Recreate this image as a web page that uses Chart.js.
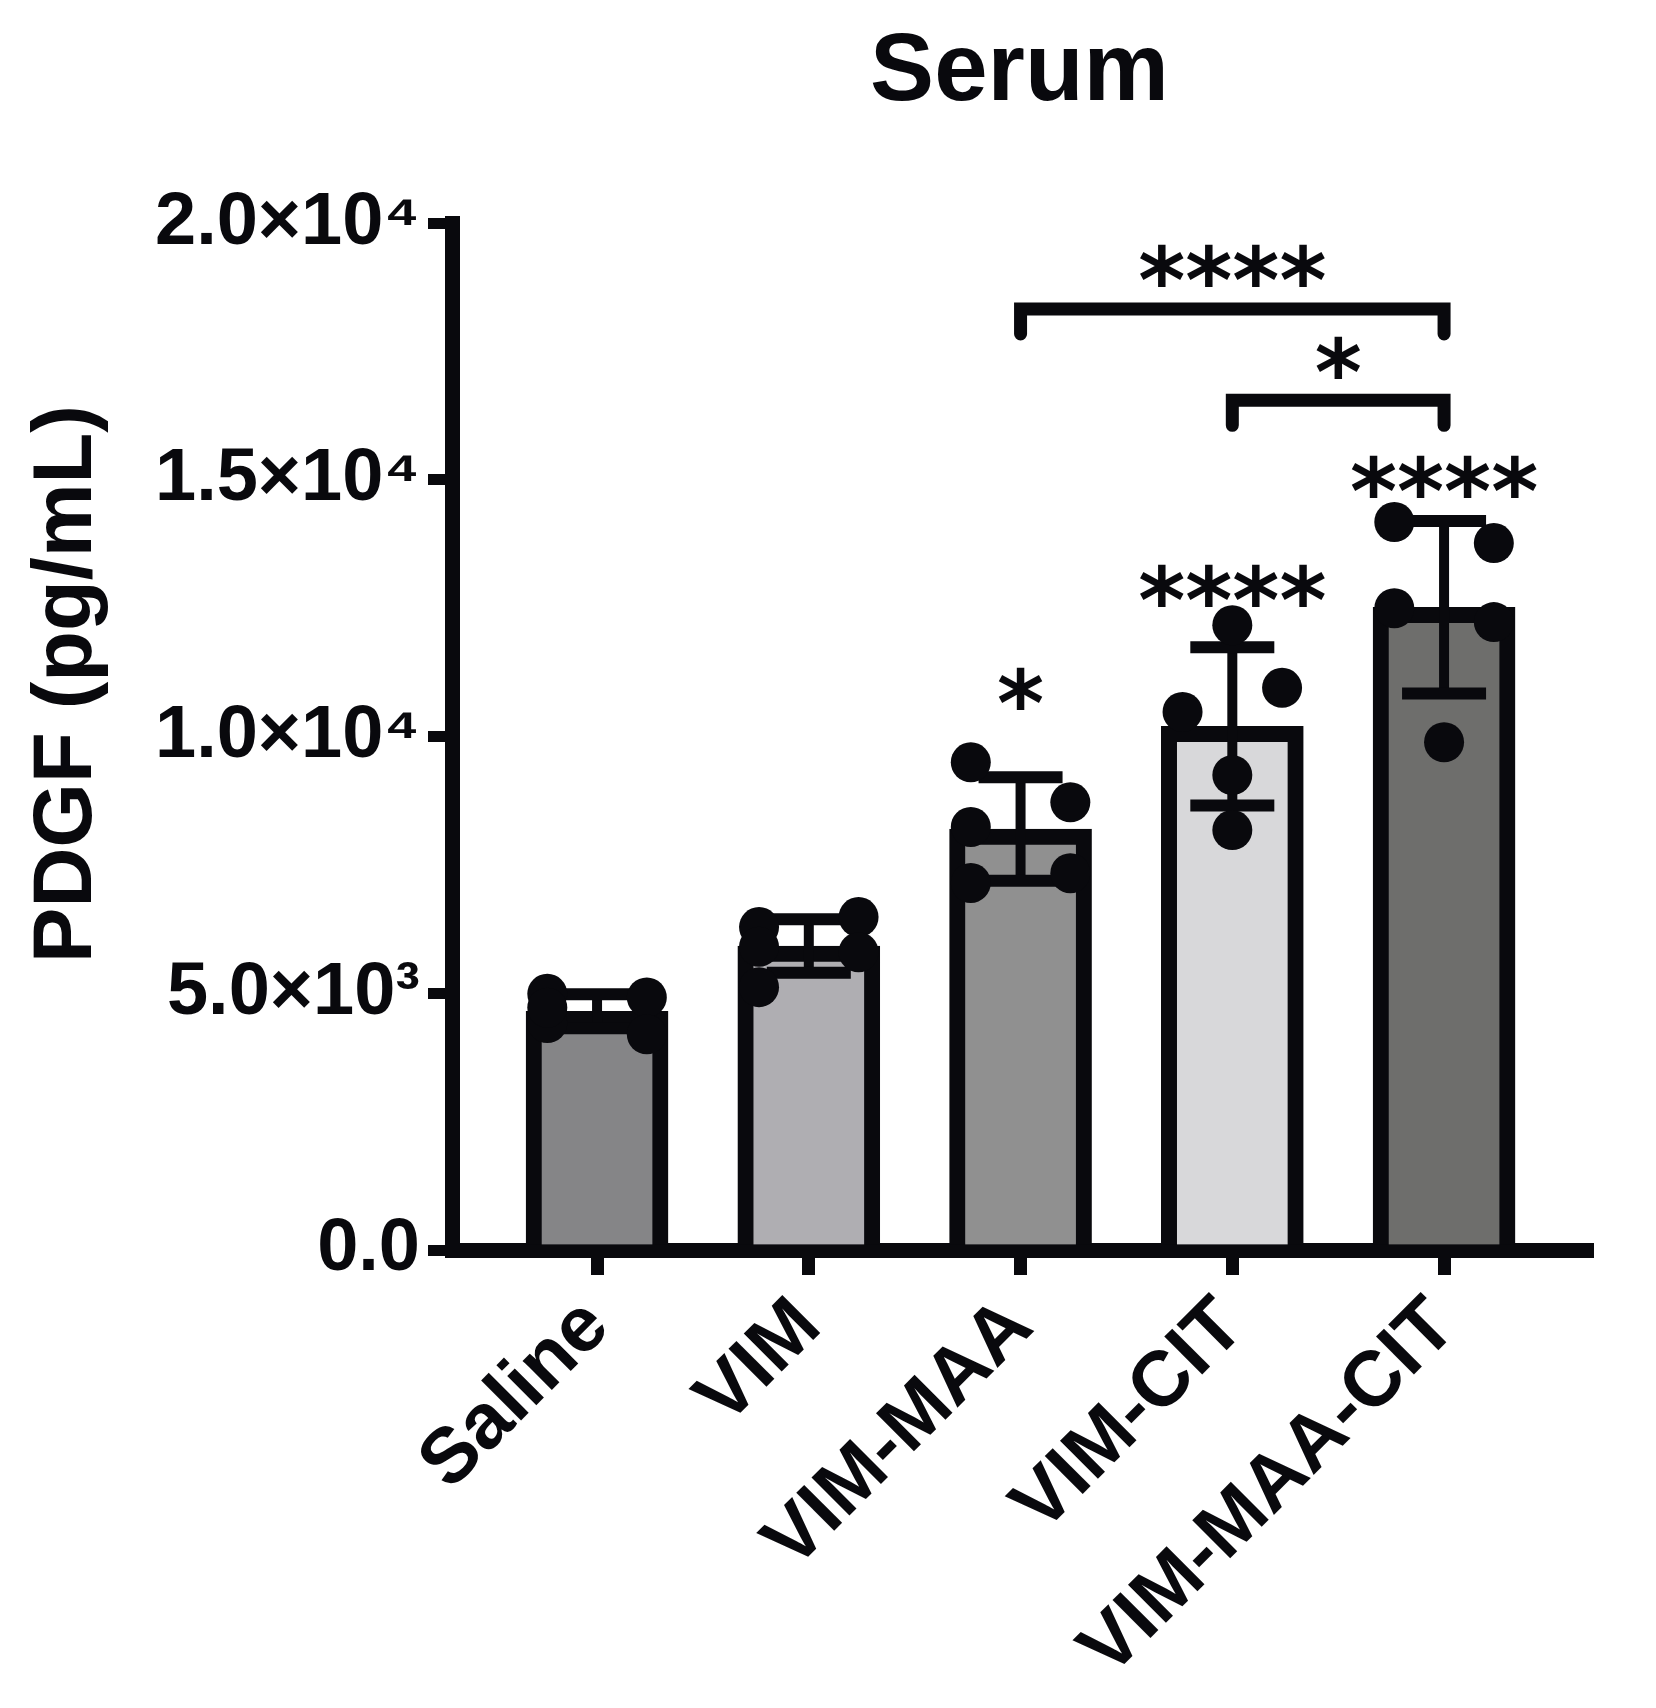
<!doctype html>
<html lang="en">

<head>
  <meta charset="utf-8">
  <title>Serum PDGF</title>
  <script src="https://cdn.jsdelivr.net/npm/chart.js@4.4.0/dist/chart.umd.min.js"></script>
  <style>
    html, body { margin: 0; padding: 0; background: #fff; }
  </style>
</head>

<body>
  <canvas id="myChart" width="1656" height="1708"></canvas>
  <script>
    // groups on the x axis
    const groups = ['Saline', 'VIM', 'VIM-MAA', 'VIM-CIT', 'VIM-MAA-CIT'];
    // mean and SD of each group (pg/mL)
    const means = [4650, 5920, 8200, 10200, 12520];
    const sds = [330, 520, 1010, 1540, 1680];
    // single animals
    const salinePts = [4990, 4920, 4420, 4200, 4720];
    const vimPts = [6290, 6485, 5120, 5800, 5905];
    const vimMaaPts = [9500, 8720, 8240, 7340, 7150];
    const vimCitPts = [12170, 10480, 10950, 9250, 8180];
    const vimMaaCitPts = [14180, 13770, 12500, 12230, 9890];
    const yTicks = [0, 5000, 10000, 15000, 20000];
    const yTickLabels = ['0.0', '5.0×10³', '1.0×10⁴', '1.5×10⁴', '2.0×10⁴'];

    const ink = '#09090d';
    const fills = ['#858587', '#afaeb2', '#909090', '#d8d8da', '#6e6e6c'];
    const sans = '"Liberation Sans", Arial, Helvetica, sans-serif';

    // significance marks (y in pg/mL)
    const brackets = [
      { from: 2, to: 4, y: 18330, label: '****' },
      { from: 3, to: 4, y: 16550, label: '*' }
    ];
    const barMarks = [
      { at: 2, y: 10930, label: '*' },
      { at: 3, y: 12950, label: '****' },
      { at: 4, y: 15070, label: '****' }
    ];

    // spread points that sit close together to left / right, like a scatter dot plot
    const near = 20000 * 0.048;
    const side = 0.235;
    function spread(vals) {
      let k = 0;
      return vals.map((v, i) => {
        const crowded = vals.some((w, j) => j !== i && Math.abs(w - v) < near);
        if (!crowded) return 0;
        return (k++ % 2 === 0) ? -side : side;
      });
    }

    const pointSets = [salinePts, vimPts, vimMaaPts, vimCitPts, vimMaaCitPts];
    const dots = [];
    pointSets.forEach((vals, g) => {
      const off = spread(vals);
      vals.forEach((v, i) => dots.push({ x: g + off[i], y: v }));
    });

    const errorBars = {
      id: 'errorBars',
      afterDatasetDraw(chart, args) {
        if (args.index !== 0) return;
        const { ctx, scales: { x, y } } = chart;
        ctx.save();
        ctx.strokeStyle = ink;
        ctx.lineCap = 'butt';
        means.forEach((m, i) => {
          const cx = x.getPixelForValue(i);
          const top = y.getPixelForValue(m + sds[i]);
          const bot = y.getPixelForValue(m - sds[i]);
          ctx.lineWidth = 10;
          ctx.beginPath();
          ctx.moveTo(cx, top);
          ctx.lineTo(cx, bot);
          ctx.stroke();
          ctx.lineWidth = 12;
          ctx.beginPath();
          ctx.moveTo(cx - 42, top);
          ctx.lineTo(cx + 42, top);
          ctx.moveTo(cx - 42, bot);
          ctx.lineTo(cx + 42, bot);
          ctx.stroke();
        });
        ctx.restore();
      }
    };

    function starText(ctx, text, cx, cy) {
      const m = ctx.measureText(text);
      const base = cy + (m.actualBoundingBoxAscent - m.actualBoundingBoxDescent) / 2;
      ctx.fillText(text, cx, base);
    }

    const annotations = {
      id: 'annotations',
      afterDraw(chart) {
        const { ctx, scales: { x, y } } = chart;
        ctx.save();
        ctx.fillStyle = ink;
        ctx.strokeStyle = ink;
        ctx.textAlign = 'center';
        ctx.textBaseline = 'alphabetic';
        ctx.font = 'bold 90px "DejaVu Sans", sans-serif';
        brackets.forEach(b => {
          const x1 = x.getPixelForValue(b.from);
          const x2 = x.getPixelForValue(b.to);
          const yl = y.getPixelForValue(b.y);
          ctx.lineWidth = 13;
          ctx.lineJoin = 'miter';
          ctx.lineCap = 'round';
          ctx.beginPath();
          ctx.moveTo(x1, yl + 25);
          ctx.lineTo(x1, yl);
          ctx.lineTo(x2, yl);
          ctx.lineTo(x2, yl + 25);
          ctx.stroke();
          starText(ctx, b.label, (x1 + x2) / 2, yl - 43);
        });
        barMarks.forEach(s => {
          starText(ctx, s.label, x.getPixelForValue(s.at), y.getPixelForValue(s.y));
        });
        // y axis title
        ctx.font = 'bold 83px ' + sans;
        ctx.textBaseline = 'middle';
        ctx.translate(68, 684);
        ctx.rotate(-Math.PI / 2);
        ctx.fillText('PDGF (pg/mL)', 0, 0);
        ctx.restore();
      }
    };

    const config = {
      type: 'bar',
      data: {
        datasets: [{
          type: 'bar',
          order: 2,
          data: means.map((m, i) => ({ x: i, y: m })),
          backgroundColor: fills,
          borderColor: ink,
          borderWidth: 16,
          barThickness: 142
        }, {
          type: 'scatter',
          order: 1,
          data: dots,
          pointRadius: 20,
          pointHoverRadius: 20,
          pointBackgroundColor: ink,
          pointBorderWidth: 0
        }]
      },
      options: {
        responsive: false,
        animation: false,
        layout: { padding: { left: 0, right: 69, top: 0, bottom: 0 } },
        plugins: {
          legend: { display: false },
          tooltip: { enabled: false },
          title: {
            display: true,
            text: 'Serum',
            fullSize: false,
            color: ink,
            font: { family: sans, size: 96, weight: 'bold' },
            padding: { top: 16, bottom: 92 }
          }
        },
        scales: {
          x: {
            type: 'linear',
            min: -0.685,
            max: 4.675,
            offset: false,
            z: 1,
            afterBuildTicks: s => { s.ticks = groups.map((g, i) => ({ value: i })); },
            afterFit: s => { s.height = 458; },
            ticks: {
              callback: v => groups[v],
              autoSkip: false,
              minRotation: 45,
              maxRotation: 45,
              padding: 6,
              color: ink,
              font: { family: sans, size: 78, weight: 'bold' }
            },
            grid: { offset: false, drawOnChartArea: false, color: ink, lineWidth: 13, tickLength: 25 },
            border: { display: true, color: ink, width: 15 }
          },
          y: {
            min: 0,
            max: 20000,
            z: 1,
            afterBuildTicks: s => { s.ticks = yTicks.map(v => ({ value: v })); },
            afterFit: s => { s.width = 452; },
            ticks: {
              callback: v => yTickLabels[yTicks.indexOf(v)],
              padding: 8,
              color: ink,
              font: { family: sans, size: 74, weight: 'bold' }
            },
            grid: { drawOnChartArea: false, color: ink, lineWidth: 11, tickLength: 24 },
            border: { display: true, color: ink, width: 15 }
          }
        }
      },
      plugins: [errorBars, annotations]
    };

    const myChart = new Chart(document.getElementById('myChart').getContext('2d'), config);
  </script>
</body>

</html>
